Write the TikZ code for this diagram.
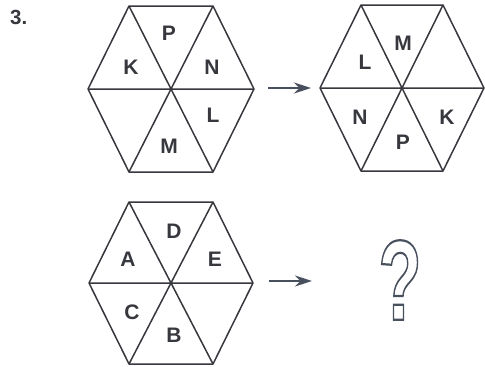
\documentclass[tikz,border=0pt]{standalone}
\usepackage{fontspec}
\setmainfont{Liberation Sans}
\usepackage{xcolor}
\usetikzlibrary{arrows.meta}
\definecolor{hexgray}{RGB}{55,56,62}
\definecolor{arrowgray}{RGB}{72,80,94}
\newcommand{\outlinetext}[1]{\special{pdf:literal direct 1 Tr 2.2 w}#1\special{pdf:literal direct 0 Tr}}

\tikzset{
  hexline/.style={draw=hexgray,line width=1.5pt,line join=round},
  letter/.style={font=\fontsize{21}{21}\selectfont\bfseries,text=hexgray,inner sep=0pt},
  goesto/.style={-{Stealth[length=17pt,width=11pt]},draw=arrowgray,line width=2pt}
}

\begin{document}
\begin{tikzpicture}[x=1pt,y=-1pt]
\useasboundingbox (0,0) rectangle (485,367);
\node[font=\fontsize{20.5}{20.5}\selectfont\bfseries,text=hexgray,anchor=west,inner sep=0pt] (num) at (10,17) {3.};
%% first hexagon
\begin{scope}[shift={(171,89)}]
\draw[hexline] (83,0)--(42,83)--(-42,83)--(-83,0)--(-42,-83)--(42,-83)--cycle;
\draw[hexline] (-83,0)--(83,0) (-42,-83)--(42,83) (42,-83)--(-42,83);
\node[letter] (pA) at (-2,-56) {P};
\node[letter] (kA) at (-40,-22) {K};
\node[letter] (nA) at (41,-22) {N};
\node[letter] (lA) at (42,26) {L};
\node[letter] (mA) at (-2,57) {M};
\end{scope}
%% second hexagon
\begin{scope}[shift={(402,88)}]
\draw[hexline] (82,0)--(41,83)--(-41,83)--(-82,0)--(-41,-83)--(41,-83)--cycle;
\draw[hexline] (-82,0)--(82,0) (-41,-83)--(41,83) (41,-83)--(-41,83);
\node[letter] (mB) at (1,-45) {M};
\node[letter] (lB) at (-37,-26) {L};
\node[letter] (nB) at (-42,29) {N};
\node[letter] (pB) at (1,54) {P};
\node[letter] (kB) at (45,29) {K};
\end{scope}
%% third hexagon
\begin{scope}[shift={(171,283)}]
\draw[hexline] (82,0)--(42,81)--(-42,81)--(-82,0)--(-42,-81)--(42,-81)--cycle;
\draw[hexline] (-82,0)--(82,0) (-42,-81)--(42,81) (42,-81)--(-42,81);
\node[letter] (dC) at (3,-52) {D};
\node[letter] (aC) at (-43,-24) {A};
\node[letter] (eC) at (44,-24) {E};
\node[letter] (cC) at (-39,29) {C};
\node[letter] (bC) at (3,52) {B};
\end{scope}
%% arrows
\coordinate (topfrom) at (268,88);
\coordinate (topto) at (311,88);
\coordinate (lowfrom) at (269,281);
\coordinate (lowto) at (312,281);
\draw[goesto] (topfrom) -- (topto);
\draw[goesto] (lowfrom) -- (lowto);
%% unknown
\node[xscale=0.62,inner sep=0pt,text=arrowgray] (qmark) at (400,280)
  {\outlinetext{\fontsize{114}{114}\selectfont\bfseries ?}};
\end{tikzpicture}
\end{document}
